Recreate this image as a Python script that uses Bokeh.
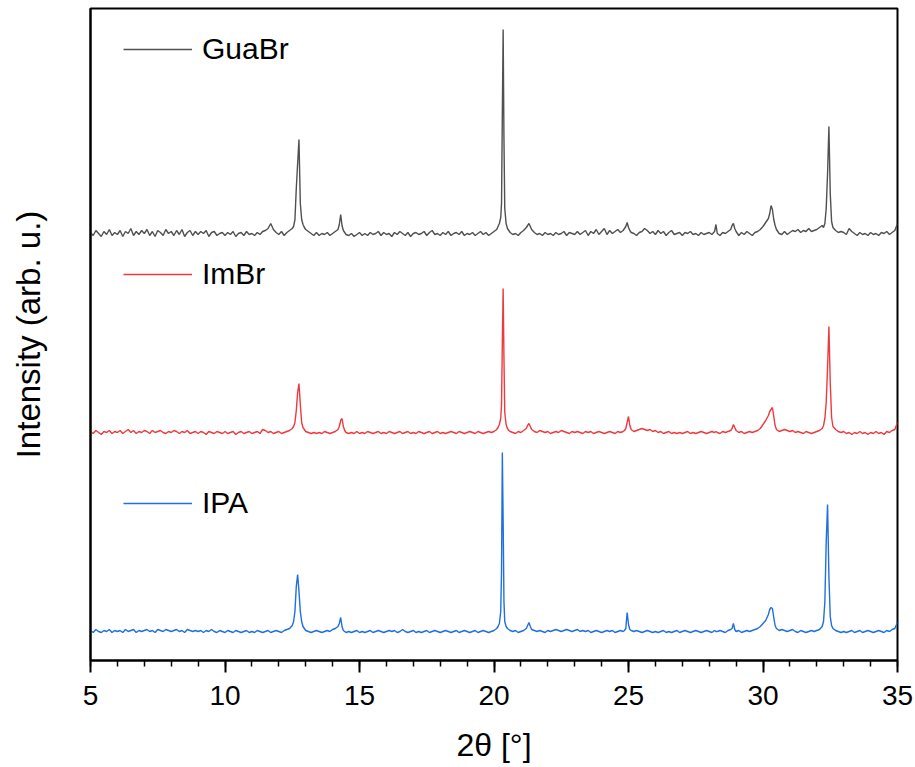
from bokeh.plotting import figure
from bokeh.models import Range1d, SingleIntervalTicker, FixedTicker, Legend, LegendItem
from bokeh.embed import file_html
from bokeh.resources import INLINE

# 2theta grid (degrees)
two_theta = [
    5.0, 5.1, 5.2, 5.3, 5.4, 5.5, 5.6, 5.7, 5.8, 5.9,
    6.0, 6.1, 6.2, 6.3, 6.4, 6.5, 6.6, 6.7, 6.8, 6.9,
    7.0, 7.1, 7.2, 7.3, 7.4, 7.5, 7.6, 7.7, 7.8, 7.9,
    8.0, 8.1, 8.2, 8.3, 8.4, 8.5, 8.6, 8.7, 8.8, 8.9,
    9.0, 9.1, 9.2, 9.3, 9.4, 9.5, 9.6, 9.7, 9.8, 9.9,
    10.0, 10.1, 10.2, 10.3, 10.4, 10.5, 10.6, 10.7, 10.8, 10.9,
    11.0, 11.1, 11.2, 11.3, 11.4, 11.5, 11.6, 11.7, 11.8, 11.9,
    12.0, 12.1, 12.2, 12.3, 12.4, 12.5, 12.55, 12.6, 12.65, 12.7,
    12.75, 12.8, 12.85, 12.9, 12.95, 13.0, 13.1, 13.2, 13.3, 13.4,
    13.5, 13.6, 13.7, 13.8, 13.9, 14.0, 14.1, 14.2, 14.25, 14.3,
    14.35, 14.4, 14.45, 14.5, 14.6, 14.7, 14.8, 14.9, 15.0, 15.1,
    15.2, 15.3, 15.4, 15.5, 15.6, 15.7, 15.8, 15.9, 16.0, 16.1,
    16.2, 16.3, 16.4, 16.5, 16.6, 16.7, 16.8, 16.9, 17.0, 17.1,
    17.2, 17.3, 17.4, 17.5, 17.6, 17.7, 17.8, 17.9, 18.0, 18.1,
    18.2, 18.3, 18.4, 18.5, 18.6, 18.7, 18.8, 18.9, 19.0, 19.1,
    19.2, 19.3, 19.4, 19.5, 19.6, 19.7, 19.8, 19.9, 20.0, 20.1,
    20.15, 20.2, 20.25, 20.28, 20.31, 20.34, 20.37, 20.4, 20.45, 20.5,
    20.55, 20.6, 20.7, 20.8, 20.9, 21.0, 21.1, 21.2, 21.25, 21.3,
    21.35, 21.4, 21.5, 21.6, 21.7, 21.8, 21.9, 22.0, 22.1, 22.2,
    22.3, 22.4, 22.5, 22.6, 22.7, 22.8, 22.9, 23.0, 23.1, 23.2,
    23.3, 23.4, 23.5, 23.6, 23.7, 23.8, 23.9, 24.0, 24.1, 24.2,
    24.3, 24.4, 24.5, 24.6, 24.7, 24.8, 24.85, 24.9, 24.95, 25.0,
    25.05, 25.1, 25.2, 25.3, 25.4, 25.5, 25.6, 25.7, 25.8, 25.9,
    26.0, 26.1, 26.2, 26.3, 26.4, 26.5, 26.6, 26.7, 26.8, 26.9,
    27.0, 27.1, 27.2, 27.3, 27.4, 27.5, 27.6, 27.7, 27.8, 27.9,
    28.0, 28.1, 28.2, 28.25, 28.3, 28.4, 28.5, 28.6, 28.7, 28.8,
    28.85, 28.9, 28.95, 29.0, 29.1, 29.2, 29.3, 29.4, 29.5, 29.6,
    29.7, 29.8, 29.9, 30.0, 30.1, 30.2, 30.25, 30.3, 30.35, 30.4,
    30.45, 30.5, 30.6, 30.7, 30.8, 30.9, 31.0, 31.1, 31.2, 31.3,
    31.4, 31.5, 31.6, 31.7, 31.8, 31.9, 32.0, 32.1, 32.2, 32.25,
    32.3, 32.35, 32.4, 32.45, 32.5, 32.55, 32.6, 32.7, 32.8, 32.9,
    33.0, 33.1, 33.2, 33.3, 33.4, 33.5, 33.6, 33.7, 33.8, 33.9,
    34.0, 34.1, 34.2, 34.3, 34.4, 34.5, 34.6, 34.7, 34.8, 34.9,
    35.0,
]

# Intensities (arb. u.) above each pattern's own baseline
guabr = [
    1, -2, 3, 0, -3, 2, -1, 4, -2, 1,
    -1, 3, -3, 2, 0, 5, -2, 2, -1, 3,
    0, 4, -2, 2, -3, 3, 1, -2, 4, 0,
    2, -2, 3, -1, 4, -3, 1, 3, -2, 2,
    -1, 2, 0, 3, -3, 1, 2, -2, 0, 1,
    -2, 1, -1, 2, -3, 0, 1, -2, 2, -1,
    0, -2, 1, -1, 2, 3, 5, 10, 4, 1,
    -1, 2, -2, 1, 3, 5, 7, 14, 45, 70,
    94, 30, 14, 9, 6, 4, 2, 0, -2, 1,
    -2, 0, -1, 1, -2, 0, 2, 4, 9, 19,
    8, 3, 1, -1, -2, 0, -3, -1, 1, -2,
    0, -2, 1, -1, 0, 2, -2, 1, -1, 0,
    -3, 1, -1, 2, 0, -2, 1, -3, 0, 1,
    -1, 0, 2, -2, 1, 3, -1, 0, -2, 1,
    -1, 2, -2, 0, 1, -1, 2, -2, 0, -1,
    1, -2, 0, 2, -1, 1, -2, 0, 2, 4,
    7, 10, 16, 30, 120, 204, 95, 25, 10, 5,
    3, 1, -1, 0, -2, 1, 3, 6, 8, 10,
    7, 4, 1, -1, 0, -2, 1, -1, 0, -2,
    1, -1, 0, 2, -2, 1, 0, -1, 2, -1,
    1, 3, -2, 2, 0, 4, -1, 2, 5, -1,
    3, 0, 2, 4, 1, 3, 5, 7, 11, 6,
    3, 1, 0, -2, 1, 2, 5, 3, 0, 2,
    -1, 3, 0, 2, -2, 1, 3, -1, 0, 1,
    -2, 1, 0, 2, -1, 0, -2, 1, -1, 0,
    1, -1, 2, 9, 0, -2, 1, 0, 2, 4,
    8, 10, 5, 2, -2, 1, -1, 2, 0, -2,
    1, 2, 4, 7, 11, 15, 20, 28, 24, 14,
    8, 4, 0, -1, 2, -1, 1, 3, 2, 4,
    1, 3, 2, 5, 2, 3, 4, 6, 8, 6,
    10, 25, 60, 107, 40, 12, 6, 3, 1, 2,
    1, -1, 5, 2, 0, -2, 1, -1, 0, -2,
    1, -1, 0, -2, 1, 0, 2, -1, 1, 3,
    10,
]

imbr = [
    1, -1, 2, 0, -2, 1, 0, 2, -1, 1,
    0, 2, -1, 1, 3, 0, 2, -1, 1, 0,
    2, 1, -1, 2, 0, 1, 2, 0, -1, 1,
    0, 2, 1, -1, 1, 0, 2, -1, 0, 1,
    -1, 1, 0, -2, 1, 0, -1, 1, 0, -1,
    1, -1, 0, 1, -2, 0, 1, -1, 0, 1,
    -1, 0, 1, -1, 3, 2, 0, 1, -1, 0,
    1, -1, 0, 1, 2, 4, 6, 10, 22, 40,
    49, 28, 10, 5, 3, 1, 0, -1, 0, -1,
    0, -1, 1, 0, -1, 0, 1, 3, 6, 12,
    14, 6, 2, 0, -1, 0, -1, 1, -1, 0,
    -1, 1, 0, -1, 0, 1, -1, 0, -1, 1,
    0, -1, 0, 1, -1, 0, 1, -1, 0, -1,
    1, 0, -1, 0, 1, -1, 0, 1, -1, 0,
    -1, 0, 1, 0, -1, 1, 0, -1, 0, 1,
    0, -1, 1, 0, -1, 0, 1, 0, 1, 3,
    5, 8, 14, 28, 90, 144, 75, 20, 8, 4,
    2, 1, 0, -1, 1, 0, 2, 4, 7, 9,
    6, 3, 1, 0, 2, 1, 0, 1, -1, 0,
    1, 0, 2, 1, 0, -1, 1, 0, 1, 0,
    -1, 1, 0, 1, -1, 0, 1, 0, -1, 0,
    1, 0, -1, 1, 0, 1, 2, 4, 10, 16,
    7, 3, 1, 2, 3, 4, 3, 2, 3, 1,
    2, 0, 1, -1, 0, 1, -1, 0, -1, 0,
    -1, 0, 1, -1, 0, -1, 0, 1, 0, -1,
    0, 1, 0, 1, 0, -1, 1, 0, 1, 2,
    4, 8, 5, 2, 0, 1, -1, 0, 1, 0,
    1, 2, 4, 8, 12, 17, 21, 23, 25, 16,
    7, 3, 1, 2, 3, 2, 1, 2, 0, 1,
    0, -1, 1, 0, -1, 0, 1, 2, 4, 7,
    14, 30, 65, 106, 50, 15, 6, 3, 1, 0,
    1, -1, 0, -2, 0, -1, 1, -1, 0, -2,
    0, -1, 1, -1, 0, -2, 1, 0, 2, 3,
    10,
]

ipa = [
    1, -1, 2, 0, -1, 1, 0, 2, -1, 1,
    0, 1, -1, 2, 0, 1, 2, -1, 1, 0,
    1, 2, 0, 1, -1, 2, 1, 0, 2, 1,
    0, 1, 2, 0, 1, -1, 2, 1, 0, 1,
    0, 1, -1, 1, 0, 2, 0, -1, 1, 0,
    -1, 1, 0, -1, 1, 0, -1, 0, 1, -1,
    0, -1, 1, 0, -1, 0, 1, -1, 0, 1,
    0, -1, 1, 2, 3, 6, 10, 20, 45, 57,
    40, 20, 10, 5, 3, 1, 0, -1, 0, 1,
    0, -1, 0, 1, 0, 2, 3, 5, 8, 14,
    5, 1, 0, -1, 0, -1, 0, 1, -1, 0,
    -1, 0, 1, -1, 0, 1, 0, -1, 0, 1,
    0, 1, -1, 0, 2, 0, -1, 0, 1, -1,
    0, -1, 0, 1, -1, 0, 1, 0, -1, 0,
    1, 0, -1, 0, 1, -1, 0, 1, 0, -1,
    0, 1, -1, 0, 1, 0, -1, 0, 1, 3,
    5, 8, 20, 60, 179, 110, 30, 10, 5, 3,
    2, 1, 0, 1, -1, 0, 1, 3, 6, 9,
    5, 2, 1, 0, 1, 0, -1, 1, 0, 1,
    2, 1, 0, 1, 2, 1, 0, 1, 2, 0,
    1, 0, 1, -1, 0, 1, 0, -1, 0, 1,
    0, 1, -1, 0, 1, 0, 1, 3, 19, 7,
    2, 1, 0, 1, 0, -1, 0, 1, 0, -1,
    0, -1, 0, 1, -1, 0, -1, 0, 1, -1,
    0, 1, 0, -1, 0, 1, 0, -1, 0, 1,
    0, -1, 1, 0, 0, 1, 0, -1, 1, 2,
    3, 8, 2, 0, 1, -1, 0, 1, 0, 1,
    2, 3, 5, 8, 11, 17, 22, 24, 23, 14,
    6, 3, 1, 2, 1, 0, 1, 2, 0, -1,
    1, 0, -1, 0, 1, 0, 1, 2, 5, 10,
    30, 90, 127, 55, 15, 6, 3, 1, 0, -1,
    0, -1, 0, 1, -1, 0, 1, -1, 0, 1,
    0, -1, 0, 1, 0, -1, 1, 0, 2, 3,
    9,
]

series_names = ["GuaBr", "ImBr", "IPA"]
series_offsets = [427, 228, 29]
series_colors = ["#505050", "#ee3a3f", "#1f6fe0"]

FONT = "Liberation Sans"

p = figure(
    width=915, height=767,
    frame_width=807, frame_height=652,
    min_border_left=90, min_border_right=18, min_border_top=8, min_border_bottom=107,
    x_range=Range1d(5, 35), y_range=Range1d(0, 652),
    output_backend="svg", toolbar_location=None,
)
p.grid.visible = False
p.background_fill_color = "white"
p.border_fill_color = "white"
p.outline_line_color = "black"
p.outline_line_width = 2
p.outline_line_alpha = 1

renderers = []
for name, data, off, col in zip(series_names, [guabr, imbr, ipa], series_offsets, series_colors):
    r = p.line(two_theta, [v + off for v in data], line_color=col, line_width=1.4)
    renderers.append(r)

# x axis
p.xaxis.ticker = SingleIntervalTicker(interval=5, num_minor_ticks=5)
p.xaxis.axis_label = "2θ [°]"
p.xaxis.axis_line_width = 2
p.xaxis.major_tick_line_width = 2
p.xaxis.minor_tick_line_width = 1.5
p.xaxis.major_tick_out = 12
p.xaxis.major_tick_in = 0
p.xaxis.minor_tick_out = 6
p.xaxis.minor_tick_in = 0
p.xaxis.major_label_text_font = FONT
p.xaxis.major_label_text_font_size = "28px"
p.xaxis.major_label_text_color = "black"
p.xaxis.major_label_standoff = 13
p.xaxis.axis_label_text_font = FONT
p.xaxis.axis_label_text_font_size = "32px"
p.xaxis.axis_label_text_font_style = "normal"
p.xaxis.axis_label_text_color = "black"
p.xaxis.axis_label_standoff = 19

# y axis
p.yaxis.ticker = FixedTicker(ticks=[])
p.yaxis.axis_label = "Intensity (arb. u.)"
p.yaxis.axis_line_width = 2
p.yaxis.major_tick_out = 0
p.yaxis.major_tick_in = 0
p.yaxis.minor_tick_out = 0
p.yaxis.minor_tick_in = 0
p.yaxis.major_label_text_font_size = "1px"
p.yaxis.axis_label_text_font = FONT
p.yaxis.axis_label_text_font_size = "33px"
p.yaxis.axis_label_text_font_style = "normal"
p.yaxis.axis_label_text_color = "black"
p.yaxis.axis_label_standoff = 44

# legends, one next to each pattern
legend_locs = [(33, 594), (33, 369), (33, 140)]
for name, r, loc in zip(series_names, renderers, legend_locs):
    lg = Legend(items=[LegendItem(label=name, renderers=[r])], location=loc)
    lg.border_line_alpha = 0
    lg.background_fill_alpha = 0
    lg.padding = 0
    lg.margin = 0
    lg.spacing = 0
    lg.glyph_width = 69
    lg.glyph_height = 30
    lg.label_height = 30
    lg.label_standoff = 10
    lg.label_text_font = FONT
    lg.label_text_font_size = "30px"
    lg.label_text_color = "black"
    p.add_layout(lg)

open("out.html", "w").write(file_html(p, INLINE))
